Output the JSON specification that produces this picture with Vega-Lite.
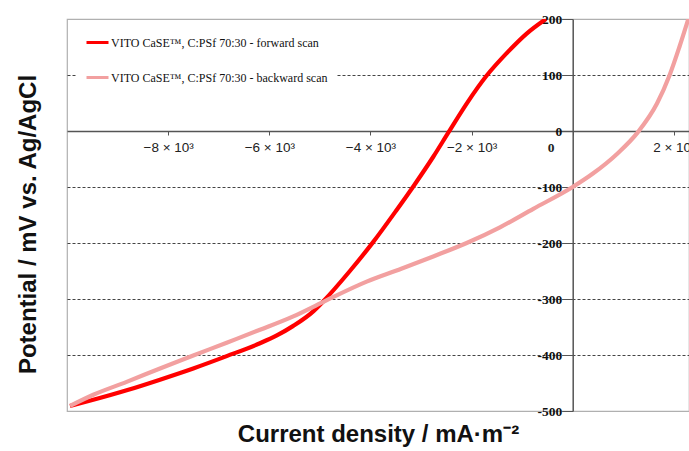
{
  "$schema": "https://vega.github.io/schema/vega-lite/v6.json",
  "autosize": {"type": "none"},
  "padding": {"left": 67, "top": 19, "right": 0, "bottom": 40},
  "width": 622,
  "height": 392,
  "background": "white",
  "config": {
    "view": {"stroke": "#b0b0b0", "strokeWidth": 1.2}
  },
  "data": {
    "values": [
      {"scan": "VITO CaSE™, C:PSf 70:30 - forward scan", "i": 0, "x": -9941, "y": -491},
      {"scan": "VITO CaSE™, C:PSf 70:30 - forward scan", "i": 1, "x": -9480, "y": -480},
      {"scan": "VITO CaSE™, C:PSf 70:30 - forward scan", "i": 2, "x": -8820, "y": -463},
      {"scan": "VITO CaSE™, C:PSf 70:30 - forward scan", "i": 3, "x": -8161, "y": -444},
      {"scan": "VITO CaSE™, C:PSf 70:30 - forward scan", "i": 4, "x": -7503, "y": -424},
      {"scan": "VITO CaSE™, C:PSf 70:30 - forward scan", "i": 5, "x": -6842, "y": -402},
      {"scan": "VITO CaSE™, C:PSf 70:30 - forward scan", "i": 6, "x": -6184, "y": -379},
      {"scan": "VITO CaSE™, C:PSf 70:30 - forward scan", "i": 7, "x": -5850, "y": -365},
      {"scan": "VITO CaSE™, C:PSf 70:30 - forward scan", "i": 8, "x": -5525, "y": -348},
      {"scan": "VITO CaSE™, C:PSf 70:30 - forward scan", "i": 9, "x": -5130, "y": -322},
      {"scan": "VITO CaSE™, C:PSf 70:30 - forward scan", "i": 10, "x": -4930, "y": -304},
      {"scan": "VITO CaSE™, C:PSf 70:30 - forward scan", "i": 11, "x": -4406, "y": -250},
      {"scan": "VITO CaSE™, C:PSf 70:30 - forward scan", "i": 12, "x": -3943, "y": -198},
      {"scan": "VITO CaSE™, C:PSf 70:30 - forward scan", "i": 13, "x": -3481, "y": -141},
      {"scan": "VITO CaSE™, C:PSf 70:30 - forward scan", "i": 14, "x": -3152, "y": -99},
      {"scan": "VITO CaSE™, C:PSf 70:30 - forward scan", "i": 15, "x": -2757, "y": -46},
      {"scan": "VITO CaSE™, C:PSf 70:30 - forward scan", "i": 16, "x": -2460, "y": -3},
      {"scan": "VITO CaSE™, C:PSf 70:30 - forward scan", "i": 17, "x": -2096, "y": 49},
      {"scan": "VITO CaSE™, C:PSf 70:30 - forward scan", "i": 18, "x": -1700, "y": 99},
      {"scan": "VITO CaSE™, C:PSf 70:30 - forward scan", "i": 19, "x": -1305, "y": 139},
      {"scan": "VITO CaSE™, C:PSf 70:30 - forward scan", "i": 20, "x": -910, "y": 174},
      {"scan": "VITO CaSE™, C:PSf 70:30 - forward scan", "i": 21, "x": -530, "y": 200},
      {"scan": "VITO CaSE™, C:PSf 70:30 - backward scan", "i": 0, "x": -9941, "y": -491},
      {"scan": "VITO CaSE™, C:PSf 70:30 - backward scan", "i": 1, "x": -9480, "y": -471},
      {"scan": "VITO CaSE™, C:PSf 70:30 - backward scan", "i": 2, "x": -8820, "y": -448},
      {"scan": "VITO CaSE™, C:PSf 70:30 - backward scan", "i": 3, "x": -8161, "y": -424},
      {"scan": "VITO CaSE™, C:PSf 70:30 - backward scan", "i": 4, "x": -7503, "y": -401},
      {"scan": "VITO CaSE™, C:PSf 70:30 - backward scan", "i": 5, "x": -6842, "y": -378},
      {"scan": "VITO CaSE™, C:PSf 70:30 - backward scan", "i": 6, "x": -6184, "y": -355},
      {"scan": "VITO CaSE™, C:PSf 70:30 - backward scan", "i": 7, "x": -5525, "y": -331},
      {"scan": "VITO CaSE™, C:PSf 70:30 - backward scan", "i": 8, "x": -4930, "y": -305},
      {"scan": "VITO CaSE™, C:PSf 70:30 - backward scan", "i": 9, "x": -4074, "y": -269},
      {"scan": "VITO CaSE™, C:PSf 70:30 - backward scan", "i": 10, "x": -3390, "y": -246},
      {"scan": "VITO CaSE™, C:PSf 70:30 - backward scan", "i": 11, "x": -2757, "y": -224},
      {"scan": "VITO CaSE™, C:PSf 70:30 - backward scan", "i": 12, "x": -2096, "y": -200},
      {"scan": "VITO CaSE™, C:PSf 70:30 - backward scan", "i": 13, "x": -1438, "y": -172},
      {"scan": "VITO CaSE™, C:PSf 70:30 - backward scan", "i": 14, "x": -779, "y": -139},
      {"scan": "VITO CaSE™, C:PSf 70:30 - backward scan", "i": 15, "x": 0, "y": -100},
      {"scan": "VITO CaSE™, C:PSf 70:30 - backward scan", "i": 16, "x": 400, "y": -76},
      {"scan": "VITO CaSE™, C:PSf 70:30 - backward scan", "i": 17, "x": 876, "y": -41},
      {"scan": "VITO CaSE™, C:PSf 70:30 - backward scan", "i": 18, "x": 1290, "y": -2},
      {"scan": "VITO CaSE™, C:PSf 70:30 - backward scan", "i": 19, "x": 1667, "y": 49},
      {"scan": "VITO CaSE™, C:PSf 70:30 - backward scan", "i": 20, "x": 1918, "y": 100},
      {"scan": "VITO CaSE™, C:PSf 70:30 - backward scan", "i": 21, "x": 2110, "y": 150},
      {"scan": "VITO CaSE™, C:PSf 70:30 - backward scan", "i": 22, "x": 2290, "y": 201}
    ]
  },
  "mark": {"type": "line", "interpolate": "monotone", "strokeWidth": 4.2, "clip": true},
  "encoding": {
    "x": {
      "field": "x",
      "type": "quantitative",
      "scale": {"domain": [-10000, 2300], "nice": false, "zero": false},
      "axis": {
        "orient": "bottom",
        "offset": -280,
        "values": [-8000, -6000, -4000, -2000, 0, 2000],
        "labelExpr": "datum.value == 0 ? '0' : (datum.value < 0 ? '−' : '') + abs(datum.value) / 1000 + ' × 10³'",
        "labelFont": {"condition": {"test": "datum.value == 0", "value": "Liberation Serif"}, "value": "Liberation Sans"},
        "labelFontWeight": {"condition": {"test": "datum.value == 0", "value": "bold"}, "value": "normal"},
        "labelOffset": {"condition": {"test": "datum.value == 0", "value": -22}, "value": 0},
        "labelFontSize": 13.5,
        "labelColor": "#222",
        "labelPadding": 5,
        "labelFlush": false,
        "labelOverlap": false,
        "tickSize": 4,
        "tickColor": "#555",
        "domainColor": "#555",
        "domainWidth": 1.5,
        "grid": false,
        "title": "Current density / mA·m⁻²",
        "titleFont": "Liberation Sans",
        "titleFontSize": 24,
        "titleFontWeight": "bold",
        "titleColor": "#111",
        "titleX": 311,
        "titleY": 303,
        "titleAlign": "center",
        "titleBaseline": "middle"
      }
    },
    "y": {
      "field": "y",
      "type": "quantitative",
      "scale": {"domain": [-500, 200], "nice": false, "zero": false},
      "axis": {
        "orient": "left",
        "offset": -505.7,
        "values": [-500, -400, -300, -200, -100, 0, 100, 200],
        "labelExpr": "'' + datum.value",
        "labelFont": "Liberation Serif",
        "labelFontWeight": "bold",
        "labelFontSize": 13.5,
        "labelColor": "#111",
        "labelPadding": 0,
        "tickSize": 11,
        "tickColor": "#555",
        "domainColor": "#555",
        "domainWidth": 1.5,
        "grid": true,
        "gridDash": [3, 2],
        "gridColor": "#444",
        "gridWidth": 1,
        "gridOpacity": {"condition": {"test": "datum.value == 0 || datum.value == 200 || datum.value == -500", "value": 0}, "value": 1},
        "title": "Potential / mV vs. Ag/AgCl",
        "titleFont": "Liberation Sans",
        "titleFontSize": 24,
        "titleFontWeight": "bold",
        "titleColor": "#111",
        "titleAngle": -90,
        "titleX": -544,
        "titleY": 205,
        "titleAlign": "center",
        "titleBaseline": "middle"
      }
    },
    "color": {
      "field": "scan",
      "type": "nominal",
      "scale": {
        "domain": ["VITO CaSE™, C:PSf 70:30 - forward scan", "VITO CaSE™, C:PSf 70:30 - backward scan"],
        "range": ["#ff0000", "#f2a0a0"]
      },
      "legend": {
        "orient": "none",
        "legendX": 10,
        "legendY": 3,
        "title": null,
        "fillColor": "white",
        "padding": 8,
        "symbolType": "stroke",
        "symbolSize": 484,
        "symbolStrokeWidth": 3,
        "labelFont": "Liberation Serif",
        "labelFontSize": 12,
        "labelColor": "#111",
        "labelOffset": 1,
        "rowPadding": 16,
        "labelLimit": 400
      }
    },
    "order": {"field": "i", "type": "quantitative"}
  }
}
